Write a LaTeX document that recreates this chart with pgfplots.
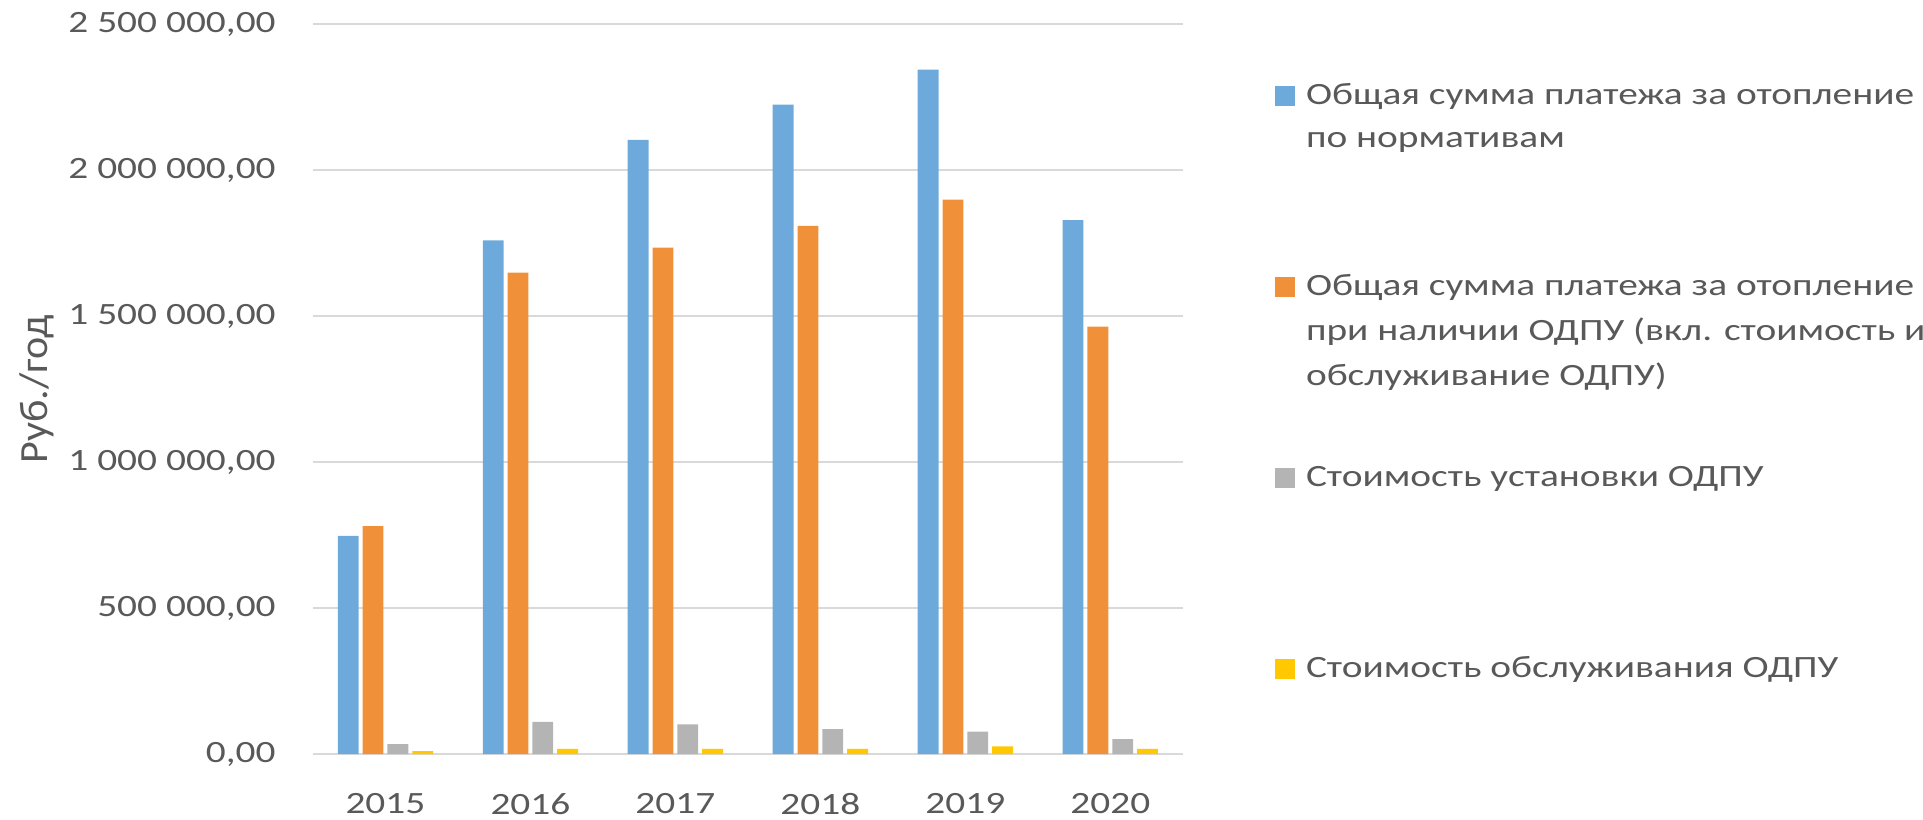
\documentclass[border=0pt]{standalone}
\usepackage{fontspec}
\setmainfont{Carlito}[FakeStretch=1.27]
\newfontfamily\ylabfont{Carlito}[FakeStretch=1.05]
\usepackage{pgfplots}
\pgfplotsset{compat=1.18}
\definecolor{cblue}{HTML}{6DAADB}
\definecolor{corange}{HTML}{F0913A}
\definecolor{cgray}{HTML}{B4B4B4}
\definecolor{cyellow}{HTML}{FFC800}
\definecolor{ctext}{HTML}{595959}
\definecolor{cgrid}{HTML}{D9D9D9}
\begin{document}
\begin{tikzpicture}
\useasboundingbox (-93.9pt,-19.5pt) rectangle (483.1pt,226.25pt);
\begin{axis}[
  scale only axis,
  width=261pt, height=218.9pt,
  ybar=1.2pt, bar width=6.25pt,
  xmin=-0.5, xmax=5.5,
  ymin=0, ymax=2500000,
  xtick={0,1,2,3,4,5},
  xticklabels={2015,2016,2017,2018,2019,2020},
  ytick={0,500000,1000000,1500000,2000000,2500000},
  yticklabels={{0,00},{500 000,00},{1 000 000,00},{1 500 000,00},{2 000 000,00},{2 500 000,00}},
  scaled y ticks=false,
  ymajorgrids,
  grid style={cgrid, line width=0.6pt},
  axis line style={draw=none},
  major tick length=0pt,
  tick style={draw=none},
  ticklabel style={font=\fontsize{9.3}{11}\selectfont, text=ctext},
  yticklabel style={inner sep=0pt, anchor=east, xshift=-11pt},
  xticklabel style={inner sep=0pt, anchor=north, yshift=-11.7pt},
  ylabel={Руб./год},
  ylabel style={at={(axis description cs:-0.3172,0.5)}, anchor=center, rotate=0, font=\ylabfont\fontsize{12}{14}\selectfont, text=ctext},
  legend cell align=left,
  legend image code/.code={\fill[#1] (0pt,-0.5pt) rectangle (6pt,5.5pt);},
  legend style={draw=none, fill=none, inner sep=0pt, outer sep=0pt,
    at={(axis description cs:1.106,0.9228)}, anchor=north west,
    font=\fontsize{9.3}{13}\selectfont, text=ctext,
    nodes={inner sep=0pt, anchor=base west, text height=7pt, text depth=50.3pt},
    /tikz/every odd column/.append style={column sep=3.3pt},
    row sep=0pt},
]
\addplot[fill=cblue, draw=none] coordinates {(0,748000) (1,1760000) (2,2105000) (3,2225000) (4,2345000) (5,1830000)};
\addlegendentry{\parbox[t]{220pt}{Общая сумма платежа за отопление\\по нормативам}}
\addplot[fill=corange, draw=none] coordinates {(0,781000) (1,1650000) (2,1735000) (3,1810000) (4,1900000) (5,1465000)};
\addlegendentry{\parbox[t]{220pt}{\fontsize{9.3}{13.5}\selectfont Общая сумма платежа за отопление\\при наличии ОДПУ (вкл. стоимость и\\обслуживание ОДПУ)}}
\addplot[fill=cgray, draw=none] coordinates {(0,34000) (1,110000) (2,102000) (3,85000) (4,77000) (5,51000)};
\addlegendentry{\parbox[t]{220pt}{Стоимость установки ОДПУ}}
\addplot[fill=cyellow, draw=none] coordinates {(0,10000) (1,18000) (2,18000) (3,18000) (4,26000) (5,18000)};
\addlegendentry{\parbox[t]{220pt}{Стоимость обслуживания ОДПУ}}
\end{axis}
\end{tikzpicture}
\end{document}
